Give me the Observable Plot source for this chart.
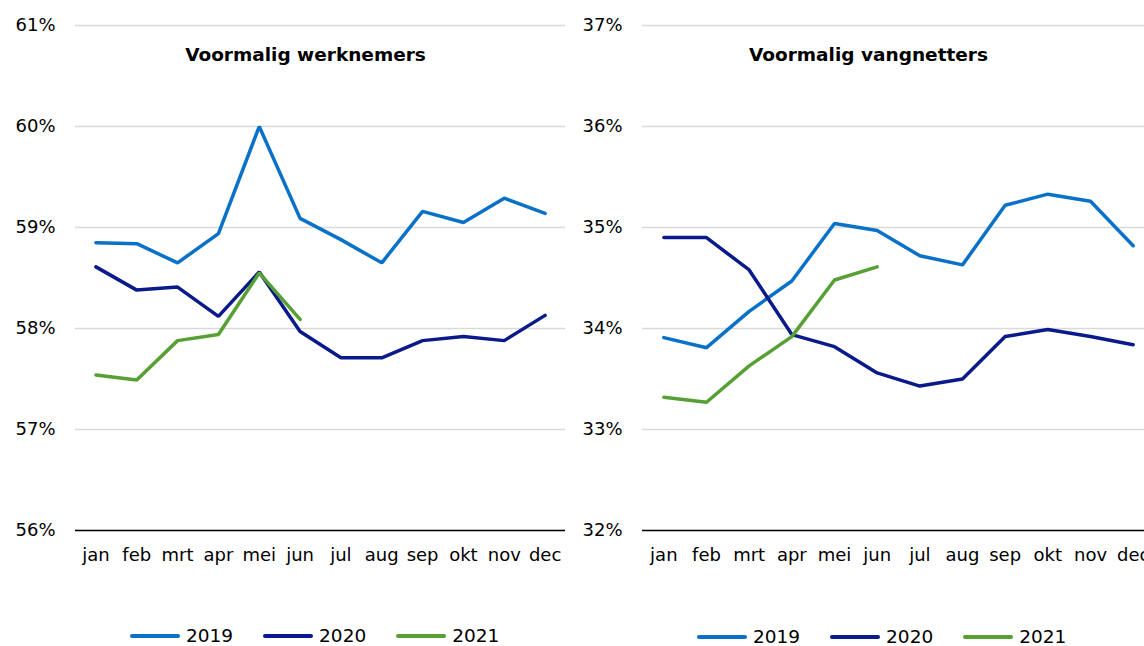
<!DOCTYPE html>
<html>
<head>
<meta charset="utf-8">
<script src="https://cdn.jsdelivr.net/npm/d3@7"></script>
<script src="https://cdn.jsdelivr.net/npm/@observablehq/plot@0.6"></script>
<style>
  html, body { margin: 0; padding: 0; background: #fff; overflow: hidden; }
  body { width: 1144px; height: 646px; position: relative; font-family: "DejaVu Sans", Verdana, sans-serif; }
  .panel { position: absolute; top: 0; }
  .panel svg { max-width: none !important; }
  .legend { position: absolute; display: flex; align-items: center; font-size: 18.5px; line-height: 14px; height: 14px; color: #000; }
  .legend .item { display: flex; align-items: center; margin-right: 30px; }
  .legend .sw { width: 50px; height: 4px; border-radius: 2px; margin-right: 6px; }
</style>
</head>
<body>
<div id="left" class="panel" style="left:0px; width:572px"></div>
<div id="right" class="panel" style="left:572px; width:590px"></div>
<div id="legL" class="legend" style="left:130px; top:629px"></div>
<div id="legR" class="legend" style="left:697px; top:630px"></div>
<script>
const months = ["jan","feb","mrt","apr","mei","jun","jul","aug","sep","okt","nov","dec"];
const years = ["2019","2020","2021"];
const colors = ["#0A71C8", "#0A1A8A", "#56A034"];

const titleLeft = "Voormalig werknemers";
const titleRight = "Voormalig vangnetters";

const werk2019 = [58.85, 58.84, 58.65, 58.94, 60.0, 59.09, 58.88, 58.65, 59.16, 59.05, 59.29, 59.14];
const werk2020 = [58.61, 58.38, 58.41, 58.12, 58.56, 57.97, 57.71, 57.71, 57.88, 57.92, 57.88, 58.13];
const werk2021 = [57.54, 57.49, 57.88, 57.94, 58.55, 58.09];

const vang2019 = [33.91, 33.81, 34.17, 34.47, 35.04, 34.97, 34.72, 34.63, 35.22, 35.33, 35.26, 34.82];
const vang2020 = [34.90, 34.90, 34.58, 33.94, 33.82, 33.56, 33.43, 33.50, 33.92, 33.99, 33.92, 33.84];
const vang2021 = [33.32, 33.27, 33.63, 33.92, 34.48, 34.61];

const leftTicks = [56, 57, 58, 59, 60, 61];
const rightTicks = [32, 33, 34, 35, 36, 37];

function rows(series) {
  const out = [];
  series.forEach((vals, i) => vals.forEach((v, j) => out.push({year: years[i], month: months[j], value: v})));
  return out;
}

function chart(data, ticks, title, opts) {
  return Plot.plot({
    width: opts.width,
    height: 600,
    marginTop: 25,
    marginBottom: 70,
    marginLeft: opts.marginLeft,
    marginRight: opts.marginRight,
    style: {fontFamily: "DejaVu Sans, Verdana, sans-serif", fontSize: "18px", color: "#000", background: "transparent", overflow: "visible", maxWidth: "none"},
    x: {type: "point", domain: months, padding: 0.5, round: false, label: null},
    y: {domain: [ticks[0], ticks[ticks.length - 1]], label: null},
    color: {domain: years, range: colors},
    marks: [
      Plot.gridY(ticks, {stroke: "#d9d9d9", strokeOpacity: 1, strokeWidth: 1.3}),
      Plot.ruleY([ticks[0]], {stroke: "#000", strokeWidth: 1.3}),
      Plot.axisY(ticks, {tickSize: 0, tickPadding: 20, tickFormat: d => d + "%", fontSize: 18, label: null}),
      Plot.axisX({tickSize: 0, tickPadding: 18, fontSize: 18, label: null}),
      Plot.line(data, {x: "month", y: "value", z: "year", stroke: "year", strokeWidth: 3.5, strokeLinejoin: "miter", strokeLinecap: "round"}),
      Plot.text([title], {frameAnchor: "top", dy: 22, dx: opts.titleDx, text: d => d, fontWeight: "bold", fontSize: 18.5})
    ]
  });
}

document.getElementById("left").append(
  chart(rows([werk2019, werk2020, werk2021]), leftTicks, titleLeft, {width: 572, marginLeft: 75, marginRight: 7, titleDx: -15})
);
document.getElementById("right").append(
  chart(rows([vang2019, vang2020, vang2021]), rightTicks, titleRight, {width: 590, marginLeft: 70, marginRight: 8, titleDx: -30})
);

function legend(el) {
  years.forEach((y, i) => {
    const item = document.createElement("div");
    item.className = "item";
    const sw = document.createElement("div");
    sw.className = "sw";
    sw.style.background = colors[i];
    const t = document.createElement("span");
    t.textContent = y;
    item.append(sw, t);
    el.append(item);
  });
}
legend(document.getElementById("legL"));
legend(document.getElementById("legR"));
</script>
</body>
</html>
